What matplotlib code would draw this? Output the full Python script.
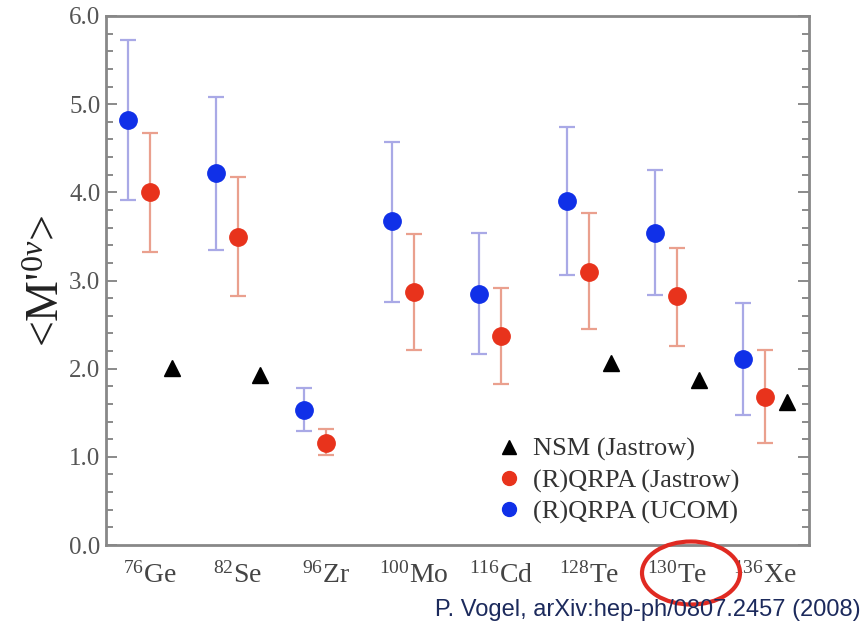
import numpy as np
import matplotlib
matplotlib.use("Agg")
import matplotlib.pyplot as plt
from matplotlib.patches import Ellipse
from matplotlib.ticker import MultipleLocator

# nuclei and values
nuclei = [r"$^{76}$Ge", r"$^{82}$Se", r"$^{96}$Zr", r"$^{100}$Mo",
          r"$^{116}$Cd", r"$^{128}$Te", r"$^{130}$Te", r"$^{136}$Xe"]

ucom = [4.82, 4.22, 1.53, 3.67, 2.85, 3.90, 3.54, 2.11]
ucom_hi = [5.73, 5.08, 1.78, 4.57, 3.54, 4.74, 4.25, 2.75]
ucom_lo = [3.91, 3.35, 1.29, 2.76, 2.17, 3.06, 2.83, 1.48]

jas = [4.00, 3.49, 1.16, 2.87, 2.37, 3.10, 2.82, 1.68]
jas_hi = [4.67, 4.17, 1.32, 3.53, 2.92, 3.77, 3.37, 2.21]
jas_lo = [3.32, 2.82, 1.02, 2.21, 1.83, 2.45, 2.26, 1.16]

nsm_idx = [0, 1, 5, 6, 7]
nsm = [2.01, 1.93, 2.07, 1.87, 1.62]

plt.rcParams['font.family'] = ['Liberation Serif', 'DejaVu Serif']
plt.rcParams['mathtext.fontset'] = 'custom'
plt.rcParams['mathtext.rm'] = 'Liberation Serif'
plt.rcParams['mathtext.it'] = 'Liberation Serif:italic'

fig = plt.figure(figsize=(8.63, 6.29), dpi=100)
ax = fig.add_axes([0.1228, 0.1335, 0.8146, 0.8411])

x = np.arange(len(nuclei))
ucom = np.array(ucom); jas = np.array(jas)
blue = "#1030e8"
red = "#e8331c"

ax.errorbar(x - 0.25, ucom, yerr=[ucom - np.array(ucom_lo), np.array(ucom_hi) - ucom],
            fmt="none", ecolor="#a9a9e6", elinewidth=1.6, capsize=6, capthick=1.6)
ax.errorbar(x, jas, yerr=[jas - np.array(jas_lo), np.array(jas_hi) - jas],
            fmt="none", ecolor="#eaa08e", elinewidth=1.6, capsize=6, capthick=1.6)

tri, = ax.plot(np.array(nsm_idx) + 0.25, nsm, "^", color="black", ms=12, ls="none")
rq, = ax.plot(x, jas, "o", color=red, ms=12.5, ls="none")
bq, = ax.plot(x - 0.25, ucom, "o", color=blue, ms=12.5, ls="none")

ax.legend([tri, rq, bq], ["NSM (Jastrow)", "(R)QRPA (Jastrow)", "(R)QRPA (UCOM)"],
          loc="lower right", bbox_to_anchor=(0.935, -0.005), frameon=False,
          fontsize=19, handletextpad=0.3, labelspacing=0.28, markerscale=0.8,
          handlelength=1.2, labelcolor="#333333")

ax.set_xlim(-0.5, 7.5)
ax.set_ylim(0, 6)
ax.set_xticks(x)
ax.set_xticklabels(nuclei, fontsize=20, color="#444444")
ax.tick_params(axis="x", length=0, pad=12)
ax.yaxis.set_major_locator(MultipleLocator(1.0))
ax.yaxis.set_minor_locator(MultipleLocator(0.2))
ax.set_yticks(np.arange(0, 7, 1.0))
ax.set_yticklabels(["%.1f" % v for v in np.arange(0, 7, 1.0)], fontsize=18, color="#555555")
ax.tick_params(axis="y", which="both", direction="in", right=True, color="#777777", width=1.2)
ax.tick_params(axis="y", which="major", length=8, pad=4)
ax.tick_params(axis="y", which="minor", length=5)
for s in ax.spines.values():
    s.set_color("#888888")
    s.set_linewidth(2)

ax.set_ylabel(r"<M$'^{0\nu}$>", fontsize=33, color="#222222", labelpad=0)

fig.text(0.997, 0.012, "P. Vogel, arXiv:hep-ph/0807.2457 (2008)", ha="right", va="bottom",
         fontsize=17, family="Liberation Sans", color="#1c2a5c")

fig.patches.append(Ellipse((691 / 863, 1 - 573 / 629), 98 / 863, 63 / 629,
                           transform=fig.transFigure, fill=False,
                           edgecolor="#e02a22", linewidth=3))

fig.savefig("out.png", dpi=100)
